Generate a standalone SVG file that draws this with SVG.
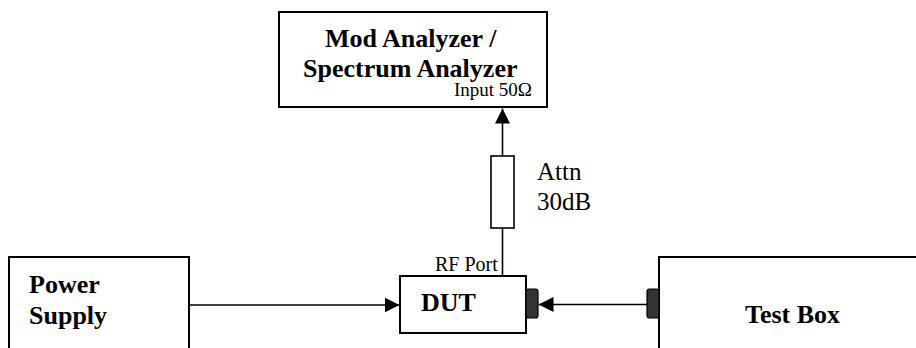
<svg xmlns="http://www.w3.org/2000/svg" width="916" height="348" viewBox="0 0 916 348">
<defs>
<style>
.box{fill:#fff;stroke:#000;stroke-width:2}
.conn{fill:#333;stroke:#000;stroke-width:1.2}
.line{fill:none;stroke:#000;stroke-width:1.6}
text{font-family:'Liberation Serif','Times New Roman',Tinos,'DejaVu Serif',serif;fill:#000}
.b{font-weight:bold;font-size:26px}
.r{font-size:25px}
.s{font-size:19px}
</style>
<marker id="ah" markerWidth="15" markerHeight="15" refX="15" refY="7.5" orient="auto" markerUnits="userSpaceOnUse">
<path d="M0,0 L15,7.5 L0,15 Z" fill="#000"/>
</marker>
</defs>
<rect width="916" height="348" fill="#fff"/>
<g id="connectors">
<line class="line" x1="502.5" y1="276" x2="502.5" y2="108.5" marker-end="url(#ah)"/>
<line class="line" x1="189" y1="305" x2="399.5" y2="305" marker-end="url(#ah)"/>
<line class="line" x1="647" y1="304.5" x2="538.5" y2="304.5" marker-end="url(#ah)"/>
</g>
<g id="mod-analyzer">
<rect class="box" x="279" y="12" width="268" height="95"/>
<text class="b" x="325" y="47">Mod Analyzer /</text>
<text class="b" x="303" y="77">Spectrum Analyzer</text>
<text class="s" x="454" y="95.5">Input 50Ω</text>
</g>
<g id="attenuator">
<rect x="491" y="156" width="23" height="72" fill="#fff" stroke="#000" stroke-width="1.6"/>
<text class="r" x="537" y="180">Attn</text>
<text class="r" x="537" y="210">30dB</text>
</g>
<g id="power-supply">
<rect class="box" x="9" y="257" width="180" height="100"/>
<text class="b" x="29" y="293">Power</text>
<text class="b" x="29" y="324">Supply</text>
</g>
<g id="dut">
<rect class="box" x="400" y="276" width="126" height="57"/>
<rect class="conn" x="526" y="289" width="12" height="29" rx="2.5"/>
<text class="b" x="421" y="311">DUT</text>
<text class="s" x="435" y="271" style="font-size:20px">RF Port</text>
</g>
<g id="test-box">
<rect class="box" x="659" y="257" width="270" height="100"/>
<rect class="conn" x="647" y="289" width="12" height="29" rx="2.5"/>
<text class="b" x="745" y="323">Test Box</text>
</g>
</svg>
